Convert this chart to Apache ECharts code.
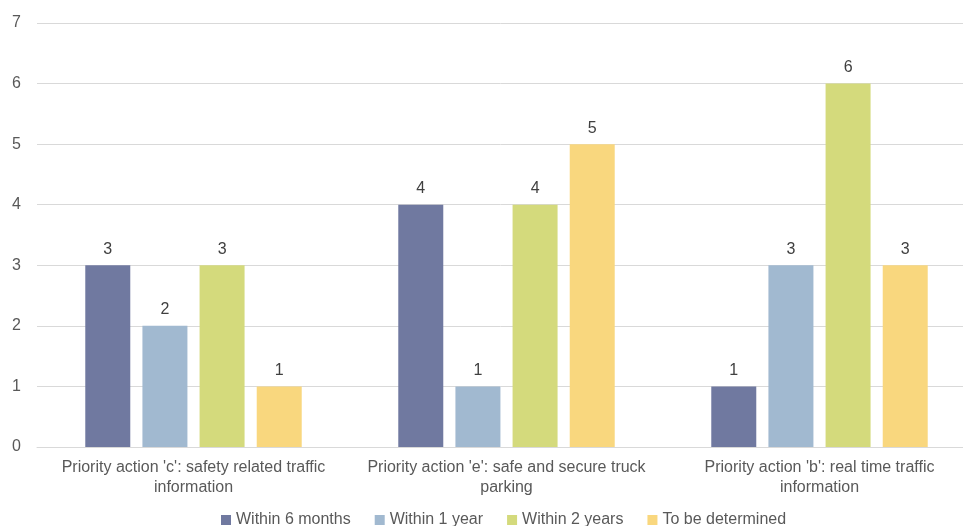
<!DOCTYPE html>
<html>
<head>
<meta charset="utf-8">
<script src="https://cdn.jsdelivr.net/npm/echarts@6/dist/echarts.min.js"></script>
<style>
  html, body { margin: 0; padding: 0; background: #fff; overflow: hidden; }
  #chart { width: 963px; height: 526px; }
</style>
</head>
<body>
<div id="chart"></div>
<script>
// Categories (two-line axis labels)
const categories = [
  "Priority action 'c': safety related traffic\ninformation",
  "Priority action 'e': safe and secure truck\nparking",
  "Priority action 'b': real time traffic\ninformation"
];

const seriesNames = ['Within 6 months', 'Within 1 year', 'Within 2 years', 'To be determined'];
const within6Months = [3, 4, 1];
const within1Year = [2, 1, 3];
const within2Years = [3, 4, 6];
const toBeDetermined = [1, 5, 3];
const colors = ['#7079A0', '#A1B9D0', '#D4DA7C', '#F9D77E'];
const yTicks = [0, 1, 2, 3, 4, 5, 6, 7];

const values = [within6Months, within1Year, within2Years, toBeDetermined];
const font = '"Liberation Sans", Arial, sans-serif';

const chart = echarts.init(document.getElementById('chart'), null, { renderer: 'canvas' });

chart.setOption({
  animation: false,
  backgroundColor: '#fff',
  color: colors,
  // plot area runs slightly past the right edge of the canvas
  grid: {
    left: 37, width: 939, top: 23, bottom: 79,
    containLabel: false, outerBoundsMode: 'none'
  },
  legend: {
    top: 507,
    left: 216,
    itemWidth: 10,
    itemHeight: 10,
    itemGap: 24,
    icon: 'rect',
    textStyle: { color: '#595959', fontSize: 16, fontFamily: font },
    data: seriesNames
  },
  xAxis: {
    type: 'category',
    data: categories,
    axisLine: { show: true, lineStyle: { color: '#D9D9D9' } },
    axisTick: { show: false },
    axisLabel: {
      color: '#595959', fontSize: 16, fontFamily: font,
      lineHeight: 20, margin: 11, interval: 0
    }
  },
  yAxis: {
    type: 'value',
    min: yTicks[0],
    max: yTicks[yTicks.length - 1],
    interval: 1,
    axisLine: { show: false },
    axisTick: { show: false },
    splitLine: { lineStyle: { color: '#D9D9D9', width: 1 } },
    axisLabel: { color: '#595959', fontSize: 16, fontFamily: font, margin: 16 }
  },
  series: seriesNames.map((name, i) => ({
    name,
    type: 'bar',
    data: values[i],
    barWidth: 45,
    barGap: '27%',
    itemStyle: { color: colors[i] },
    label: {
      show: true,
      position: 'top',
      distance: 8,
      color: '#404040',
      fontSize: 16,
      fontFamily: font
    }
  }))
});
</script>
</body>
</html>
